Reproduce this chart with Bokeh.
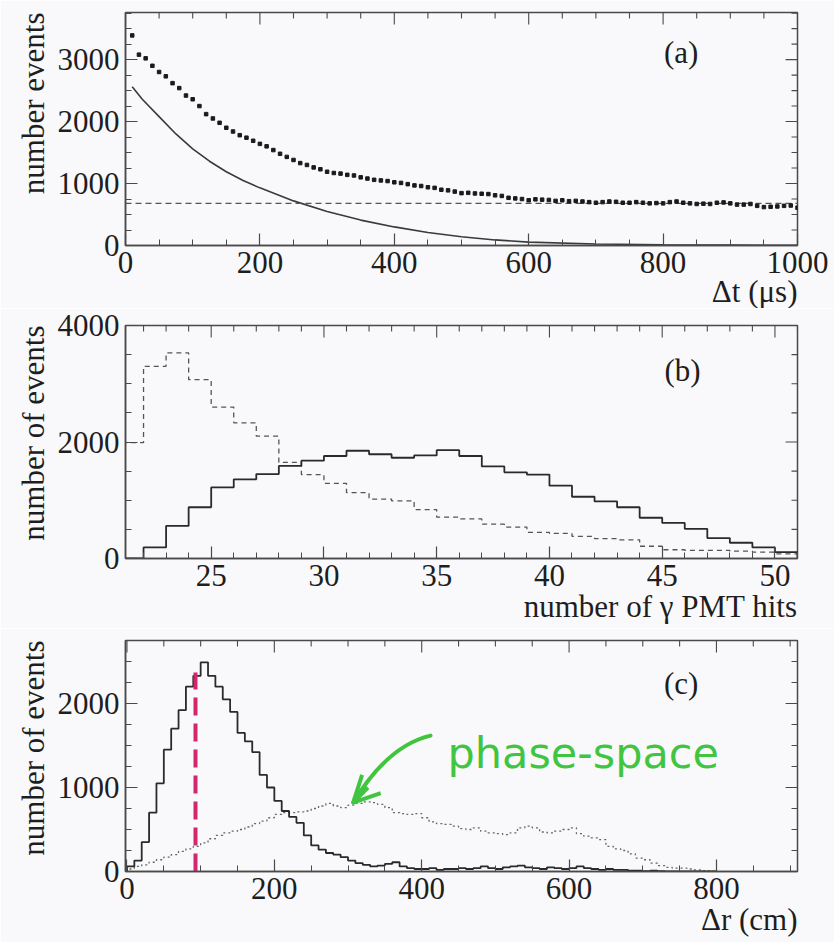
import numpy as np
from bokeh.plotting import figure
from bokeh.layouts import column
from bokeh.models import Range1d, SingleIntervalTicker, Label, Arrow, OpenHead, Title
from bokeh.embed import file_html
from bokeh.resources import INLINE

FONT = "Liberation Serif"
BG = "#f9f9fb"
INK = "#1e1e1e"
FRAME = "#4a4a4a"
GREEN = "#41c541"
RED = "#d4266e"

# ---------------- (a) time difference between prompt and delayed signal
dt_us = list(range(10, 1001, 10))
dt_counts = [
    3390, 3080, 3020, 2900, 2800, 2730, 2620, 2540, 2420, 2360,
    2250, 2120, 2050, 1980, 1900, 1840, 1780, 1740, 1690, 1640,
    1600, 1540, 1480, 1430, 1380, 1330, 1300, 1260, 1230, 1190,
    1170, 1160, 1140, 1130, 1100, 1080, 1060, 1050, 1040, 1020,
    1010, 990, 970, 960, 940, 930, 900, 890, 870, 845,
    850, 840, 835, 830, 810, 800, 770, 760, 750, 730,
    745, 740, 735, 720, 730, 715, 720, 710, 700, 690,
    700, 710, 705, 690, 690, 700, 690, 680, 685, 680,
    700, 710, 690, 680, 670, 675, 670, 690, 695, 680,
    660, 660, 670, 640, 620, 625, 630, 640, 645, 610,
]
fit_t = [10, 25, 50, 75, 100, 125, 150, 175, 200, 250, 300, 350, 400,
         450, 500, 550, 600, 700, 800, 900, 1000]
fit_counts = [2560, 2360, 2080, 1800, 1560, 1360, 1190, 1050, 930, 720, 550,
              410, 300, 210, 140, 90, 55, 25, 12, 6, 3]
dt_background = 680

# ---------------- (b) number of gamma PMT hits
hit_edges = list(range(21, 52))
hits_signal = [0, 190, 560, 880, 1220, 1360, 1450, 1590, 1680, 1760,
               1850, 1790, 1730, 1770, 1860, 1760, 1580, 1480, 1440, 1250,
               1060, 980, 880, 700, 610, 510, 350, 270, 190, 110]
hits_other = [1990, 3300, 3530, 3070, 2600, 2330, 2100, 1650, 1440, 1290,
              1130, 1020, 990, 840, 710, 680, 590, 540, 450, 430,
              380, 340, 320, 210, 150, 140, 140, 125, 110, 80]

# ---------------- (c) distance between prompt and delayed vertex
dr_edges = list(range(0, 801, 10))
dr_signal = [
    60, 130, 350, 700, 1050, 1450, 1700, 1920, 2200, 2330,
    2490, 2330, 2200, 2050, 1900, 1650, 1550, 1420, 1150, 1000,
    840, 720, 650, 580, 430, 310, 260, 220, 200, 170,
    130, 100, 80, 60, 70, 90, 110, 60, 40, 30,
    30, 40, 20, 30, 30, 40, 30, 40, 60, 40,
    30, 50, 60, 70, 50, 40, 30, 50, 40, 30,
    40, 60, 40, 30, 20, 30, 20, 20, 10, 10,
    5, 10, 5, 0, 0, 0, 0, 0, 0, 0,
]
dr_phase_space = [
    30, 60, 80, 110, 140, 170, 200, 240, 270, 300,
    340, 390, 430, 460, 480, 500, 530, 570, 600, 640,
    680, 700, 700, 710, 720, 750, 780, 810, 780, 760,
    790, 810, 830, 820, 800, 760, 700, 690, 680, 690,
    640, 590, 570, 560, 540, 510, 500, 520, 480, 460,
    450, 440, 460, 520, 540, 520, 470, 460, 480, 500,
    520, 450, 420, 400, 380, 300, 270, 250, 210, 160,
    140, 100, 70, 50, 40, 40, 30, 20, 10, 5,
]
dr_cut = 93
dr_cut_top = 2370


def step_xy(edges, counts):
    xs, ys = [edges[0]], [0]
    for i, c in enumerate(counts):
        xs += [edges[i], edges[i + 1]]
        ys += [c, c]
    xs.append(edges[-1])
    ys.append(0)
    return xs, ys


def styled_axis(axis, interval, minor):
    axis.ticker = SingleIntervalTicker(interval=interval, num_minor_ticks=minor)
    axis.major_tick_in = 12
    axis.major_tick_out = 0
    axis.minor_tick_in = 6
    axis.minor_tick_out = 0
    axis.major_tick_line_color = FRAME
    axis.minor_tick_line_color = FRAME
    axis.major_tick_line_width = 1.2
    axis.minor_tick_line_width = 1.0
    axis.axis_line_color = FRAME
    axis.axis_line_width = 1.5
    axis.major_label_text_font = FONT
    axis.major_label_text_font_size = "31px"
    axis.major_label_text_color = INK
    axis.major_label_standoff = 6
    axis.major_label_text_line_height = 0.9


def mirror_ticks(p, xr, yr, frame_w, frame_h, xint, xminor, yint, yminor):
    """Inward ticks along the top and right edges of the frame."""
    dx_px = (xr[1] - xr[0]) / frame_w
    dy_px = (yr[1] - yr[0]) / frame_h
    xs0, ys0, xs1, ys1 = [], [], [], []
    step = xint / xminor
    for k in range(int(np.ceil(xr[0] / step)), int(np.floor(xr[1] / step)) + 1):
        x = k * step
        length = 12 if k % xminor == 0 else 6
        xs0.append(x); xs1.append(x)
        ys0.append(yr[1]); ys1.append(yr[1] - length * dy_px)
    step = yint / yminor
    for k in range(int(np.ceil(yr[0] / step)), int(np.floor(yr[1] / step)) + 1):
        y = k * step
        length = 12 if k % yminor == 0 else 6
        ys0.append(y); ys1.append(y)
        xs0.append(xr[1]); xs1.append(xr[1] - length * dx_px)
    p.segment(x0=xs0, y0=ys0, x1=xs1, y1=ys1, line_color=FRAME, line_width=1.1)


def panel(xr, yr, height, left, right, top, bottom, xint, xminor, yint, yminor):
    p = figure(width=834, height=height, x_range=Range1d(*xr), y_range=Range1d(*yr),
               output_backend="svg", toolbar_location=None,
               min_border_left=left, min_border_right=right,
               min_border_top=top, min_border_bottom=bottom,
               background_fill_color=BG, border_fill_color=BG,
               outline_line_color=FRAME, outline_line_width=1.5)
    p.xgrid.visible = False
    p.ygrid.visible = False
    styled_axis(p.xaxis[0], xint, xminor)
    styled_axis(p.yaxis[0], yint, yminor)
    mirror_ticks(p, xr, yr, 834 - left - right, height - top - bottom,
                 xint, xminor, yint, yminor)
    return p


def axis_title(p, text, side, standoff):
    p.add_layout(Title(text=text, align="right", text_font=FONT,
                       text_font_size="31px", text_font_style="normal",
                       text_color=INK, standoff=standoff,
                       text_line_height=0.9), side)


def inner_label(p, x, y, text, size="31px", color=INK, font=FONT,
                align="center", baseline="middle"):
    p.add_layout(Label(x=x, y=y, text=text, text_font=font, text_font_size=size,
                       text_color=color, text_align=align, text_baseline=baseline))


# ---------------- panel (a)
pa = panel((0, 1000), (0, 3760), 308, 125, 32, 12, 63, 200, 4, 1000, 4)
pa.line(fit_t, fit_counts, line_color="#3a3a3a", line_width=1.6)
pa.line([0, 1000], [dt_background, dt_background], line_color="#555555",
        line_width=1.3, line_dash="6 4")
pa.scatter(dt_us, dt_counts, marker="square", size=3.5, fill_color="#1a1a1a",
           line_color="#1a1a1a")
inner_label(pa, 827, 3113, "(a)")
axis_title(pa, "\u0394t (\u03bcs)", "below", -7)
axis_title(pa, "number events", "left", 8)

# ---------------- panel (b)
pb = panel((21.2, 51), (0, 4000), 320, 125, 34, 17, 70, 5, 5, 2000, 4)
xs, ys = step_xy(hit_edges, hits_other)
pb.line(xs, ys, line_color="#555555", line_width=1.3, line_dash="5 4")
xs, ys = step_xy(hit_edges, hits_signal)
pb.line(xs, ys, line_color="#2a2a2a", line_width=1.8)
inner_label(pb, 45.9, 3231, "(b)")
axis_title(pb, "number of \u03b3 PMT hits", "below", -4)
axis_title(pb, "number of events", "left", 8)

# ---------------- panel (c)
pc = panel((-2, 910), (0, 2750), 314, 121, 37, 12, 71, 200, 4, 1000, 4)
xs, ys = step_xy(dr_edges, dr_phase_space)
pc.line(xs, ys, line_color="#666666", line_width=1.3, line_dash="2 3")
xs, ys = step_xy(dr_edges, dr_signal)
pc.line(xs, ys, line_color="#2a2a2a", line_width=1.8)
pc.segment(x0=[dr_cut], y0=[0], x1=[dr_cut], y1=[dr_cut_top], line_color=RED,
           line_width=4, line_dash="18 8")
inner_label(pc, 752, 2237, "(c)")
axis_title(pc, "\u0394r (cm)", "below", -4)
axis_title(pc, "number of events", "left", 8)

# hand-drawn style annotation pointing at the phase-space curve
pc.quadratic(x0=[412], y0=[1618], x1=[307], y1=[821], cx=[354], cy=[1499],
             line_color=GREEN, line_width=4, line_cap="round")
pc.add_layout(Arrow(end=OpenHead(size=26, line_color=GREEN, line_width=4),
                    x_start=327, y_start=1000, x_end=307, y_end=821,
                    line_color=GREEN, line_width=4))
inner_label(pc, 435, 1416, "phase-space", size="43px", color=GREEN,
            font="DejaVu Sans", align="left", baseline="alphabetic")

layout = column(pa, pb, pc, spacing=0)
open("out.html", "w").write(file_html(layout, INLINE))
